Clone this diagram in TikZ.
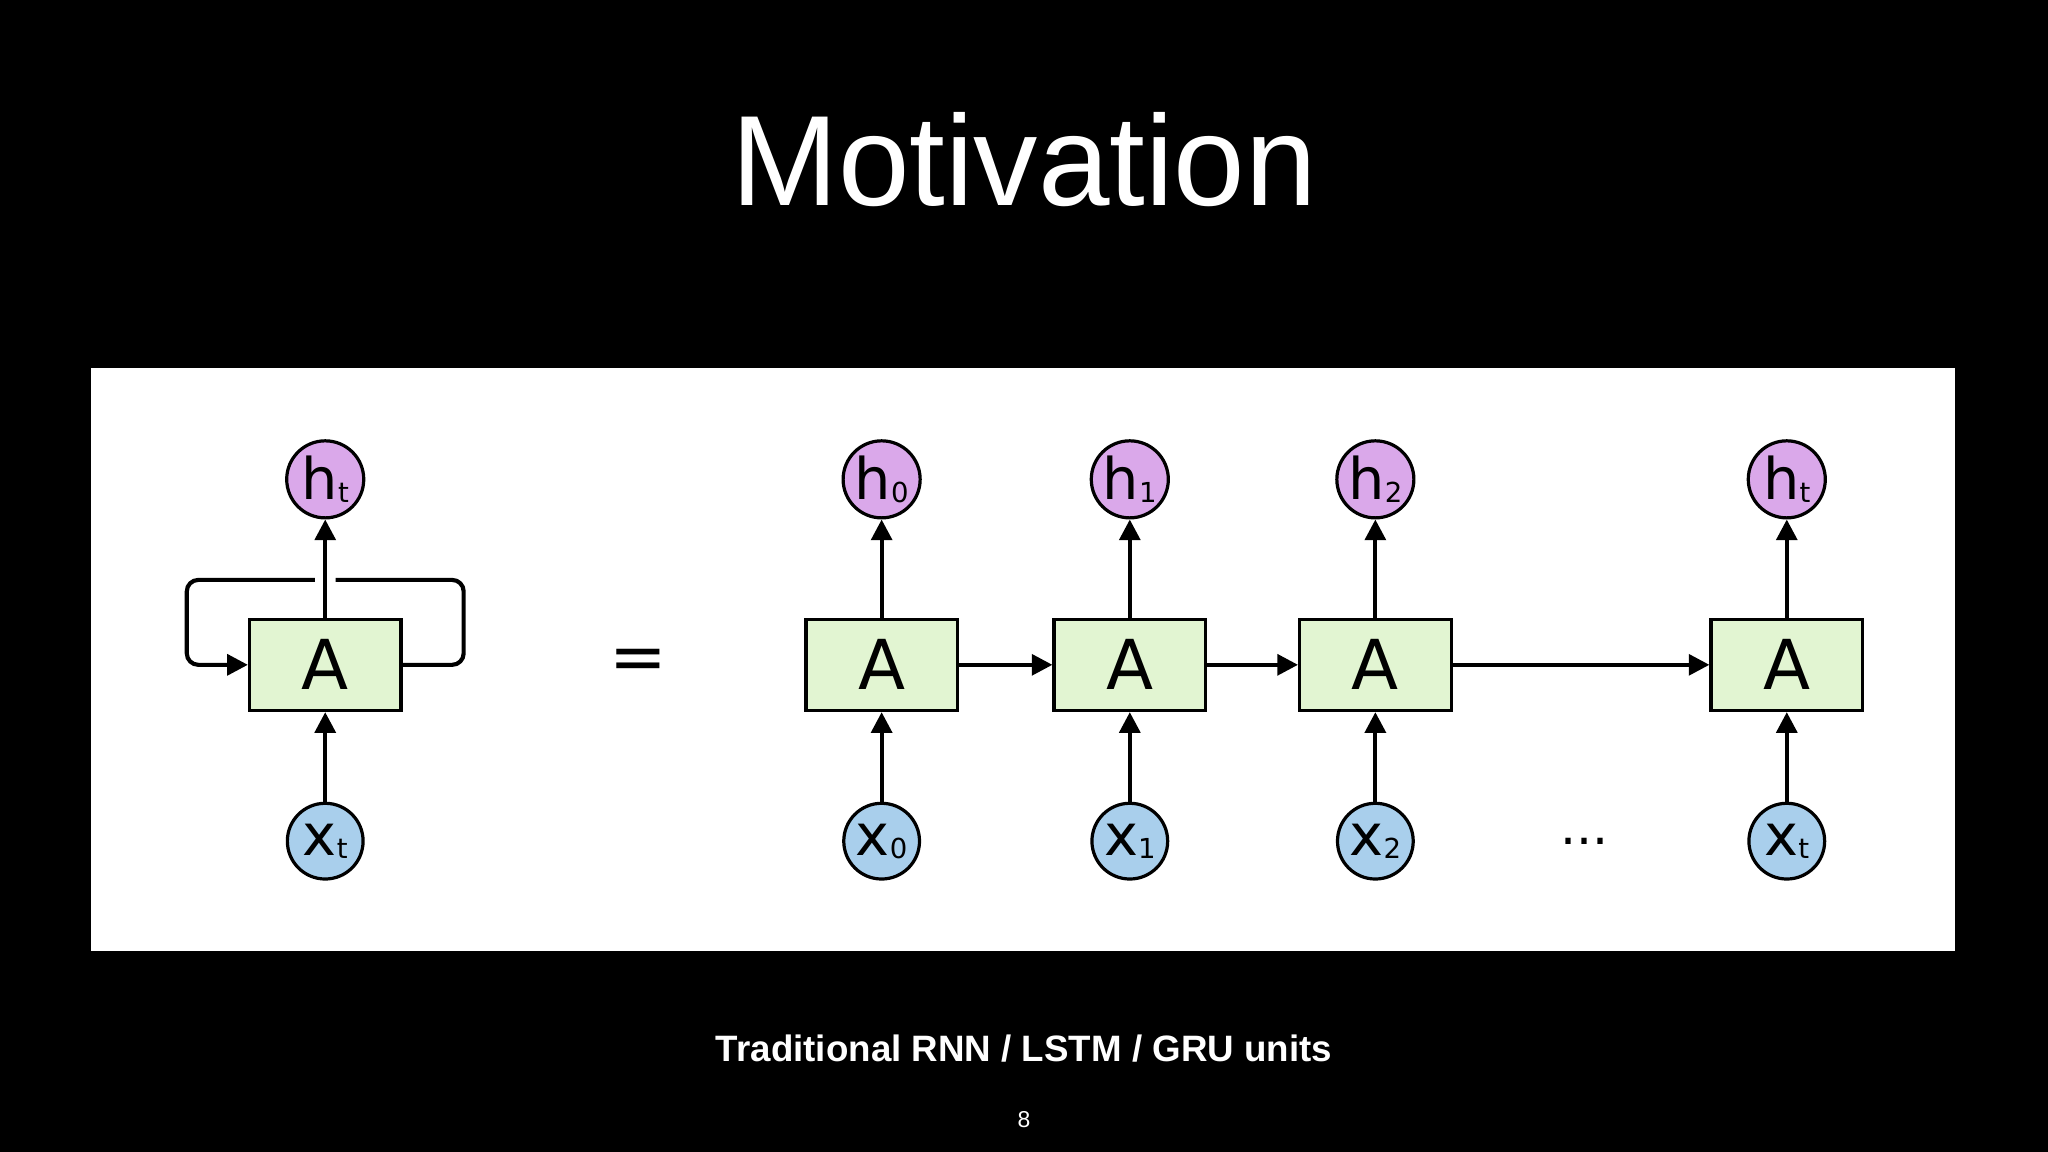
\documentclass[tikz,border=0pt]{standalone}
\usepackage{fontspec}
\setmainfont{Liberation Sans}
\newfontfamily\diag{DejaVu Sans}
\usetikzlibrary{arrows.meta}
\definecolor{boxg}{HTML}{E2F5D2}
\definecolor{hpur}{HTML}{DAA8EA}
\definecolor{xblu}{HTML}{A9CFEC}
\tikzset{
 cellbox/.style={draw=black,line width=1.4pt,fill=boxg,minimum width=2.32cm,minimum height=1.4cm,inner sep=0pt,font=\diag\fontsize{30}{30}\selectfont},
 hcirc/.style={circle,draw=black,line width=1.4pt,fill=hpur,minimum size=1.18cm,inner sep=0pt,font=\diag\fontsize{25}{25}\selectfont},
 xcirc/.style={circle,draw=black,line width=1.4pt,fill=xblu,minimum size=1.16cm,inner sep=0pt,font=\diag\fontsize{25}{25}\selectfont},
 arr/.style={line width=1.8pt,-{Triangle[length=9pt,width=9pt]}},
 loopl/.style={line width=1.8pt,rounded corners=5pt},
}
\newcommand{\mysub}[1]{\raisebox{-0.05em}{\fontsize{12}{12}\selectfont #1}}
\begin{document}
\begin{tikzpicture}[x=0.02cm,y=-0.02cm]
\fill[black] (0,0) rectangle (1568,882);
\fill[white] (70,282) rectangle (1497,728);
\node[white,font=\fontsize{56}{56}\selectfont] (title) at (784,122) {Motivation};
\node[white,font=\bfseries\fontsize{16}{16}\selectfont] (sub) at (784,803) {Traditional RNN / LSTM / GRU units};
\node[white,font=\fontsize{10}{10}\selectfont] (pg) at (784,857) {8};
% left folded
\node[cellbox] (A) at (249,509) {A};
\node[hcirc] (h) at (249,367) {h\mysub{t}};
\node[xcirc] (x) at (249,644) {x\mysub{t}};
\draw[arr] (x) -- (A);
\draw[arr] (A) -- (h);
\coordinate (r1) at (355,509); \coordinate (r2) at (355,444); \coordinate (r3) at (257,444);
\coordinate (l1) at (241,444); \coordinate (l2) at (143,444); \coordinate (l3) at (143,509);
\draw[loopl] (A.east) -- (r1) -- (r2) -- (r3);
\draw[loopl,-{Triangle[length=9pt,width=9pt]}] (l1) -- (l2) -- (l3) -- (A.west);
\node[font=\diag\fontsize{30}{30}\selectfont] (eq) at (489,509) {=};
% unrolled
\foreach \n/\xx/\s in {0/675/0,1/865/1,2/1053/2,3/1368/t}{
 \node[cellbox] (A\n) at (\xx,509) {A};
 \node[hcirc] (h\n) at (\xx,367) {h\mysub{\s}};
 \node[xcirc] (x\n) at (\xx,644) {x\mysub{\s}};
 \draw[arr] (x\n) -- (A\n);
 \draw[arr] (A\n) -- (h\n);
}
\draw[arr] (A0) -- (A1);
\draw[arr] (A1) -- (A2);
\draw[arr] (A2) -- (A3);
\node[font=\diag\fontsize{22}{22}\selectfont] (dots) at (1213,644) {...};
\end{tikzpicture}
\end{document}
